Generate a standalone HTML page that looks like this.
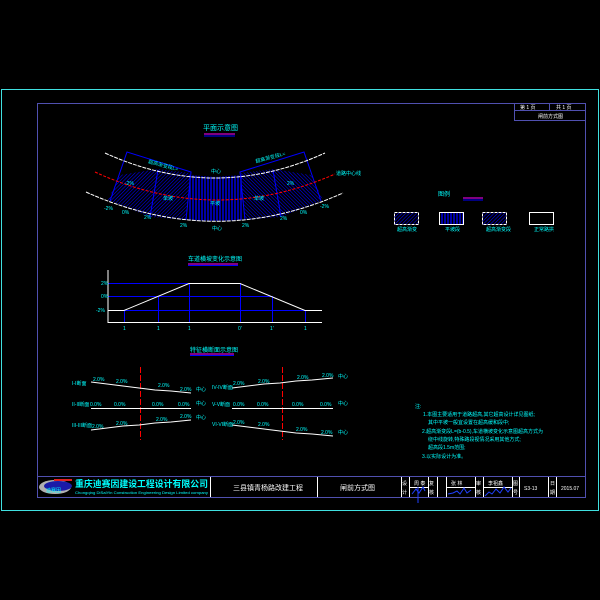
<!DOCTYPE html>
<html><head><meta charset="utf-8"><style>
html,body{margin:0;padding:0;background:#000;}
svg{display:block}
text{font-family:"Liberation Sans","Noto Sans CJK SC",sans-serif;fill:#00ffff;}
.w{fill:#fff}
</style></head><body>
<svg width="600" height="600" viewBox="0 0 600 600" xmlns="http://www.w3.org/2000/svg">
<defs>
<pattern id="diag" width="2.5" height="2.5" patternUnits="userSpaceOnUse" patternTransform="rotate(45)"><line x1="0" y1="0" x2="0" y2="2.5" stroke="#0000ff" stroke-width="1.1"/></pattern>
<pattern id="diag2" width="2.5" height="2.5" patternUnits="userSpaceOnUse" patternTransform="rotate(-45)"><line x1="0" y1="0" x2="0" y2="2.5" stroke="#0000ff" stroke-width="1.1"/></pattern>
<pattern id="vert" width="3" height="3" patternUnits="userSpaceOnUse"><line x1="1" y1="0" x2="1" y2="3" stroke="#0000ff" stroke-width="1.3"/></pattern>
</defs>
<rect width="600" height="600" fill="#000"/>
<rect x="1.5" y="89.5" width="597" height="421" fill="none" stroke="#40e0e0" stroke-width="1"/>
<rect x="37.5" y="103.5" width="548" height="394" fill="none" stroke="#5050b0" stroke-width="1"/>
<g stroke="#5050b0" fill="none"><rect x="514.5" y="103.5" width="71" height="17"/><line x1="514" y1="110.5" x2="586" y2="110.5"/><line x1="549.5" y1="103" x2="549.5" y2="110"/></g>
<text class="w" x="520" y="109" font-size="5">第 1 页</text><text class="w" x="556" y="109" font-size="5">共 1 页</text>
<text class="w" x="538" y="118" font-size="5">闸前方式图</text>

<text x="203" y="130" font-size="7">平面示意图</text>
<line x1="204" y1="134" x2="235" y2="134" stroke="#ff00ff"/><line x1="204" y1="136" x2="235" y2="136" stroke="#0000ff"/>
<polygon points="120,175 158,169 150,217 108,200" fill="url(#diag)"/>
<polygon points="158,169 190,173 186,220 150,217" fill="url(#diag)"/>
<polygon points="188,175 215,177 243,175 243,220 215,221 188,220" fill="url(#vert)"/>
<polygon points="241,173 273,169 281,217 245,220" fill="url(#diag2)"/>
<polygon points="273,169 311,175 323,200 281,217" fill="url(#diag2)"/>
<g stroke="#0000ff" fill="none" stroke-width="1">
<polyline points="110,201 127,152 191,172 186,220"/>
<polyline points="321,201 304,152 240,172 245,220"/>
<line x1="158" y1="170" x2="150" y2="217"/><line x1="273" y1="170" x2="281" y2="217"/>
</g>
<path d="M105,153 Q215,203 325,153" fill="none" stroke="#fff" stroke-width="1" stroke-dasharray="4,1"/>
<path d="M86,192 Q215,250 343,193" fill="none" stroke="#fff" stroke-width="1" stroke-dasharray="4,1"/>
<path d="M95,172 Q215,227 335,174" fill="none" stroke="#ff0000" stroke-width="1" stroke-dasharray="3,1.5"/>
<text x="148" y="163" font-size="5" transform="rotate(15 148 163)">超高渐变段L=</text>
<text x="256" y="163" font-size="5" transform="rotate(-15 256 163)">超高渐变段L=</text>
<text x="336" y="175" font-size="5">道路中心线</text>
<text x="211" y="173" font-size="5">中心</text>
<text x="125" y="185" font-size="5">-2%</text><text x="163" y="200" font-size="5">单坡</text>
<text x="287" y="185" font-size="5">2%</text><text x="254" y="200" font-size="5">单坡</text>
<text x="210" y="205" font-size="5">平坡</text>
<text x="104" y="210" font-size="5">-2%</text><text x="122" y="214" font-size="5">0%</text>
<text x="144" y="219" font-size="5">2%</text><text x="180" y="227" font-size="5">2%</text>
<text x="212" y="230" font-size="5">中心</text><text x="242" y="227" font-size="5">2%</text>
<text x="280" y="220" font-size="5">2%</text><text x="300" y="214" font-size="5">0%</text><text x="320" y="208" font-size="5">-2%</text>

<text x="438" y="196" font-size="6">图例</text>
<line x1="463" y1="198" x2="483" y2="198" stroke="#ff00ff"/><line x1="463" y1="200" x2="483" y2="200" stroke="#0000ff"/>
<rect x="394.5" y="212.5" width="24" height="12" fill="url(#diag)" stroke="#fff" stroke-dasharray="3,1"/>
<rect x="439.5" y="212.5" width="24" height="12" fill="url(#vert)" stroke="#fff"/>
<rect x="482.5" y="212.5" width="24" height="12" fill="url(#diag)" stroke="#fff" stroke-dasharray="3,1"/>
<rect x="529.5" y="212.5" width="24" height="12" fill="none" stroke="#fff"/>
<text x="397" y="231" font-size="5">超高渐变</text><text x="445" y="231" font-size="5">平坡段</text>
<text x="486" y="231" font-size="5">超高渐变段</text><text x="534" y="231" font-size="5">正常路拱</text>

<text x="188" y="261" font-size="6">车道横坡变化示意图</text>
<line x1="188" y1="264" x2="238" y2="264" stroke="#ff00ff"/><line x1="188" y1="265.5" x2="238" y2="265.5" stroke="#0000ff"/>
<g stroke="#0000ff" stroke-width="1" fill="none">
<line x1="108" y1="283.5" x2="240" y2="283.5"/><line x1="108" y1="296.5" x2="272" y2="296.5"/><line x1="108" y1="310.5" x2="305" y2="310.5"/>
<line x1="124.5" y1="310" x2="124.5" y2="322"/><line x1="158.5" y1="296" x2="158.5" y2="322"/><line x1="189.5" y1="283" x2="189.5" y2="322"/>
<line x1="240.5" y1="283" x2="240.5" y2="322"/><line x1="272.5" y1="296" x2="272.5" y2="322"/><line x1="305.5" y1="310" x2="305.5" y2="322"/>
</g>
<g stroke="#fff" fill="none"><polyline points="108,270 108,322.5 322,322.5"/><polyline points="108,310.5 124,310.5 189,283.5 240,283.5 305,310.5 322,310.5"/></g>
<text x="101" y="285" font-size="5">2%</text><text x="101" y="298" font-size="5">0%</text><text x="96" y="312" font-size="5">-2%</text>
<text x="123" y="330" font-size="5">1</text><text x="157" y="330" font-size="5">1</text><text x="188" y="330" font-size="5">1</text>
<text x="238" y="330" font-size="5">0'</text><text x="270" y="330" font-size="5">1'</text><text x="304" y="330" font-size="5">1</text>

<text x="190" y="352" font-size="6">特征横断面示意图</text>
<line x1="190" y1="354" x2="234" y2="354" stroke="#ff00ff"/><line x1="190" y1="355.5" x2="234" y2="355.5" stroke="#0000ff"/>
<line x1="140.5" y1="367" x2="140.5" y2="440" stroke="#ff0000" stroke-dasharray="6,2"/>
<line x1="282.5" y1="367" x2="282.5" y2="440" stroke="#ff0000" stroke-dasharray="6,2"/>
<g stroke="#fff" fill="none">
<polyline points="91,382 107,384 123,386 139,388 155,390 171,391 191,393"/>
<line x1="91" y1="408.5" x2="191" y2="408.5"/>
<polyline points="91,430 107,428 123,426 139,425 155,423 171,422 191,420"/>
<polyline points="232,388 248,386 264,384 280,383 296,381 312,380 333,378"/>
<line x1="232" y1="408.5" x2="333" y2="408.5"/>
<polyline points="232,425 248,427 264,429 280,431 296,433 312,434 333,436"/>
</g>
<g font-size="5">
<text x="72" y="385">I-I断面</text><text x="72" y="406">II-II断面</text><text x="72" y="427">III-III断面</text>
<text x="212" y="389">IV-IV断面</text><text x="212" y="406">V-V断面</text><text x="212" y="426">VI-VI断面</text>
<text x="196" y="391">中心</text><text x="196" y="405">中心</text><text x="196" y="419">中心</text>
<text x="338" y="378">中心</text><text x="338" y="405">中心</text><text x="338" y="434">中心</text>
<text x="93" y="381">2.0%</text><text x="116" y="383">2.0%</text><text x="158" y="387">2.0%</text><text x="180" y="391">2.0%</text>
<text x="90" y="406">0.0%</text><text x="114" y="406">0.0%</text><text x="152" y="406">0.0%</text><text x="178" y="406">0.0%</text>
<text x="92" y="428">2.0%</text><text x="116" y="425">2.0%</text><text x="156" y="421">2.0%</text><text x="180" y="418">2.0%</text>
<text x="233" y="385">2.0%</text><text x="258" y="383">2.0%</text><text x="297" y="379">2.0%</text><text x="322" y="377">2.0%</text>
<text x="233" y="406">0.0%</text><text x="257" y="406">0.0%</text><text x="292" y="406">0.0%</text><text x="320" y="406">0.0%</text>
<text x="233" y="424">2.0%</text><text x="258" y="426">2.0%</text><text x="296" y="431">2.0%</text><text x="321" y="434">2.0%</text>
</g>

<g font-size="5">
<text x="415" y="408">注:</text>
<text x="423" y="416">1.本图主要适用于道路超高,其它超高设计详见图纸;</text>
<text x="428" y="424">其中平坡一般宜设置在超高缓和段中;</text>
<text x="422" y="433">2.超高渐变段L=(b-0.5),车道横坡变化示意图超高方式为</text>
<text x="428" y="441">绕中线旋转,特殊路段视情况采用其他方式;</text>
<text x="428" y="449">超高段1.5m范围;</text>
<text x="422" y="458">3.以实际设计为准。</text>
</g>

<g stroke="#5050b0" fill="none">
<rect x="37.5" y="476.5" width="548" height="21"/>
</g>
<g stroke="#fff" fill="none">
<line x1="210.5" y1="477" x2="210.5" y2="497"/><line x1="317.5" y1="477" x2="317.5" y2="497"/>
<line x1="401.5" y1="477" x2="401.5" y2="497"/><line x1="409.5" y1="477" x2="409.5" y2="497"/>
<line x1="428.5" y1="477" x2="428.5" y2="497"/><line x1="437.5" y1="477" x2="437.5" y2="497"/>
<line x1="446.5" y1="477" x2="446.5" y2="497"/><line x1="475.5" y1="477" x2="475.5" y2="497"/>
<line x1="483.5" y1="477" x2="483.5" y2="497"/><line x1="512.5" y1="477" x2="512.5" y2="497"/>
<line x1="519.5" y1="477" x2="519.5" y2="497"/><line x1="548.5" y1="477" x2="548.5" y2="497"/>
<line x1="556.5" y1="477" x2="556.5" y2="497"/>
<line x1="409" y1="487.5" x2="428" y2="487.5"/><line x1="446" y1="487.5" x2="475" y2="487.5"/><line x1="483" y1="487.5" x2="512" y2="487.5"/>
</g>
<ellipse cx="55" cy="487" rx="16" ry="7" fill="#b0b0b0"/>
<ellipse cx="58" cy="486" rx="14" ry="5" fill="#1a1aa8"/>
<rect x="54" y="479" width="18" height="2" fill="#e02020"/>
<text x="46" y="492" font-size="5">迪赛因</text>
<text x="75" y="487" font-size="9" font-weight="bold" textLength="133" lengthAdjust="spacingAndGlyphs">重庆迪赛因建设工程设计有限公司</text>
<text x="75" y="494" font-size="4" textLength="133" lengthAdjust="spacingAndGlyphs">Chongqing DiSaiYin Construction Engineering Design Limited company</text>
<text class="w" x="233" y="490" font-size="7">三县镇青杨路改建工程</text>
<text class="w" x="340" y="490" font-size="7">闸前方式图</text>
<g font-size="5" class="w">
<text class="w" x="402" y="485">设</text><text class="w" x="402" y="494">计</text>
<text class="w" x="414" y="485">周 泰</text>
<text class="w" x="429" y="485">复</text><text class="w" x="429" y="494">核</text>
<text class="w" x="451" y="485">张 林</text>
<text class="w" x="476" y="485">审</text><text class="w" x="476" y="494">核</text>
<text class="w" x="488" y="485">李祖鑫</text>
<text class="w" x="513" y="485">图</text><text class="w" x="513" y="494">号</text>
<text class="w" x="524" y="490">S3-13</text>
<text class="w" x="550" y="485">日</text><text class="w" x="550" y="494">期</text>
<text class="w" x="561" y="490">2015.07</text>
</g>
<g stroke="#2040ff" fill="none" stroke-width="1">
<path d="M412,494 L416,489 L419,493 L423,487 L425,491"/><line x1="418" y1="487" x2="418" y2="503"/>
<path d="M448,494 L453,493 L457,491 L460,494 L464,488 L467,493 L471,490"/>
<path d="M485,496 L489,492 L492,494 L496,489 L500,493 L504,487 L508,492 L511,488"/>
</g>
</svg>
</body></html>
